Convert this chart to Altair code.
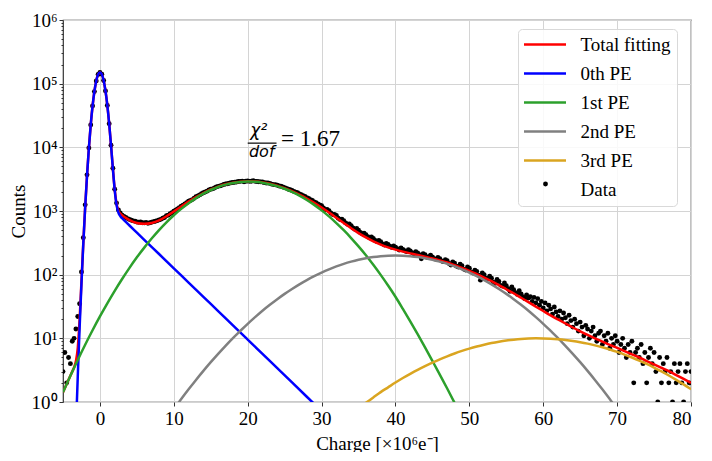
import altair as alt
import numpy as np
import pandas as pd

series_names = ["Total fitting", "0th PE", "1st PE", "2nd PE", "3rd PE", "Data"]
series_colors = ["#ff0000", "#0000ff", "#2ca02c", "#808080", "#daa520", "transparent"]

# ---- fitted curves ----
red_x = [-5.0, -4.5, -4.0, -3.75] + [round(v, 2) for v in np.arange(-3.5, 3.51, 0.25)] + list(range(4, 81))
red_y = [1.42, 1.92, 2.58, 3.0,
         3.5, 4.4, 7.1, 20.1, 79, 317, 1145, 3580, 9630, 22290, 44260, 75500, 110500, 139000,
         150000, 140600, 112000, 76900, 45570, 23520, 10800, 4680, 2190, 1300, 1014, 910, 855, 814, 779,
         720, 650, 630, 650, 712, 826, 984, 1178, 1406, 1656,
         1918, 2177, 2418, 2626, 2788, 2890, 2926, 2899, 2815, 2678,
         2500, 2288, 2055, 1813, 1572, 1343, 1132, 944, 782, 647,
         536, 450, 384, 333, 296, 268, 247, 230, 216, 204,
         192, 180, 167, 155, 141, 128, 115, 102, 90, 79,
         68.5, 59, 51, 43.4, 37, 31.5, 26.9, 23, 19.8, 17.1,
         14.8, 12.9, 11.3, 10.0, 8.9, 7.9, 7.1, 6.3, 5.6, 5.0,
         4.4, 3.9, 3.45, 3.05, 2.65, 2.3, 2.0]

blue_x = [round(v, 2) for v in np.arange(-3.5, 3.51, 0.25)] + [4, 5, 6, 8, 10, 12, 14, 16, 18, 20, 22, 24, 26, 28, 30]
blue_y = [0.048, 0.38, 2.54, 14.7, 72.9, 310, 1137, 3570, 9620, 22280, 44250, 75500, 110500, 139000,
          150000, 140600, 112000, 76870, 45530, 23480, 10750, 4630, 2130, 1240, 944, 832, 769, 718, 673,
          592, 457, 353, 211, 126, 75.2, 44.9, 26.8, 16.0, 9.55, 5.70, 3.40, 2.03, 1.21, 0.72]

green_x = list(range(-5, 50))
green_y = [1.42, 2.58, 4.58, 7.93, 13.4, 22.1, 35.5, 55.8, 85.5, 128,
           187, 266, 369, 501, 663, 857, 1080, 1329, 1596, 1870,
           2138, 2386, 2598, 2762, 2865, 2900, 2870, 2782, 2640, 2455,
           2235, 1993, 1741, 1489, 1247, 1023, 822, 647, 499, 376,
           278, 202, 143, 99.2, 67.5, 45, 29, 18.45, 11.6, 7.2,
           4.42, 2.70, 1.63, 0.97, 0.57]

gray_x = list(range(10, 71))
gray_y = [0.77, 1.11, 1.58, 2.22, 3.08, 4.22, 5.71, 7.64, 10.1, 13.1,
          16.9, 21.5, 27.1, 33.6, 41.2, 49.9, 59.6, 70.5, 82.2, 94.8,
          107.9, 121.3, 134.7, 147.8, 160.1, 171.4, 181.2, 189.2, 195.1, 198.8,
          200, 198.8, 195.1, 189.2, 181.2, 171.4, 160.1, 147.8, 134.7, 121.3,
          107.9, 94.8, 82.2, 70.5, 59.6, 49.9, 41.2, 33.6, 27.1, 21.5,
          16.9, 13.1, 10.1, 7.64, 5.71, 4.22, 3.08, 2.22, 1.58, 1.11, 0.77]

gold_x = list(range(35, 81))
gold_y = [0.79, 0.97, 1.18, 1.43, 1.70, 2.02, 2.38, 2.77, 3.20, 3.66,
          4.16, 4.68, 5.22, 5.78, 6.34, 6.90, 7.44, 7.95, 8.43, 8.86,
          9.24, 9.54, 9.78, 9.93, 10.0, 9.98, 9.88, 9.69, 9.43, 9.10,
          8.70, 8.25, 7.75, 7.23, 6.68, 6.12, 5.56, 5.00, 4.47, 3.96,
          3.47, 3.02, 2.61, 2.23, 1.89, 1.59]

# ---- measured histogram: bin centres every 0.25 from -5 to 80, and counts ----
data_x = [round(v, 2) for v in np.arange(-5.0, 80.01, 0.25)]
data_y = [
    # -5.0 .. 3.0
    3, 6, 2, 5, 4, 9, 10, 14, 22, 35, 110, 380, 1250, 3700, 9800, 22500, 44500,
    75000, 110000, 139000, 150000, 141000, 112000, 77000, 45500, 23500, 10800, 4700,
    2200, 1330, 1040, 930, 860,
    # 3.25 .. 58.0
    820, 790, 760,
    735, 715, 700, 690, 670, 665, 675, 655, 650, 660, 640, 655,
    665, 680, 690, 705, 725, 740, 770, 790, 845, 860, 905, 940,
    990, 1030, 1080, 1130, 1190, 1230, 1290, 1350, 1420, 1460, 1510, 1590,
    1670, 1720, 1790, 1870, 1930, 1990, 2050, 2140, 2200, 2230, 2300, 2390,
    2440, 2480, 2530, 2610, 2650, 2680, 2730, 2780, 2810, 2830, 2860, 2900,
    2920, 2950, 2870, 2940, 2960, 2920, 2940, 2980, 2920, 2900, 2880, 2870,
    2850, 2790, 2760, 2750, 2720, 2640, 2600, 2580, 2540, 2470, 2450, 2380,
    2330, 2270, 2200, 2160, 2100, 2030, 1980, 1930, 1860, 1800, 1740, 1690,
    1620, 1570, 1500, 1460, 1390, 1350, 1290, 1250, 1210, 1120, 1050, 1060,
    1010, 930, 880, 880, 850, 770, 735, 745, 705, 650, 620, 625,
    590, 540, 515, 530, 500, 460, 440, 450, 425, 395, 380, 390,
    372, 345, 330, 345, 330, 305, 292, 310, 298, 280, 268, 282,
    270, 255, 244, 262, 250, 238, 230, 246, 236, 222, 212, 230,
    220, 206, 178, 214, 205, 188, 192, 203, 190, 178, 174, 186,
    178, 164, 160, 172, 166, 150, 142, 158, 152, 136, 132, 146,
    138, 122, 118, 132, 126, 110, 106, 118, 112, 98, 82, 106,
    100, 88, 87, 95, 88, 76, 73, 84, 78, 68, 66, 74,
    67, 60, 55, 64, 58, 52, 49, 56, 50, 45, 42, 48,
    43,
    # 58.25 .. 80.0
    45, 38, 44, 36, 42, 33, 38, 30, 36, 27,
    33, 29, 24, 31, 26, 22, 27, 20, 25, 21,
    17, 23, 19, 15, 20, 17, 13, 18, 15, 11,
    16, 14, 10, 13, 15, 11, 9, 12, 13, 8,
    11, 9, 12, 7, 10, 8, 11, 9, 6, 8,
    10, 7, 5, 8, 6, 9, 2, 6, 7, 5,
    8, 4, 6, 2, 5, 7, 4, 6, 3, 1,
    5, 2, 4, 3, 5, 2, 3, 1, 4, 2,
    3, 4, 2, 1, 3, 4, 2, 3]

x_ticks = [0, 10, 20, 30, 40, 50, 60, 70, 80]
y_ticks = [m * 10 ** k for k in range(0, 6) for m in range(1, 10)] + [10 ** 6]

# annotation
chi_label = ["χ²"]
dof_label = ["dof"]
chi_value = ["= 1.67"]

MAJ = "abs(log(datum.value)/LN10 - round(log(datum.value)/LN10)) < 0.001"

xscale = alt.Scale(domain=[-5, 80], nice=False, zero=False)
yscale = alt.Scale(type="log", domain=[1, 1e6], nice=False)
cscale = alt.Scale(domain=series_names, range=series_colors)

xaxis = alt.Axis(values=x_ticks, title="Charge [×10⁶e⁻]", grid=True, tickSize=4,
                 labelPadding=3, titlePadding=6)
yaxis = alt.Axis(values=y_ticks, title="Counts", grid=True, labelOverlap=False,
                 labelExpr="(" + MAJ + ") ? '10' + ['⁰','¹','²','³','⁴','⁵','⁶'][round(log(datum.value)/LN10)] : ''",
                 gridOpacity={"condition": {"test": MAJ, "value": 1}, "value": 0},
                 tickSize={"condition": {"test": MAJ, "value": 4}, "value": 2},
                 labelPadding=2, titlePadding=3)

line_legend = alt.Legend(
    title=None, orient="none", legendX=455, legendY=9, zindex=0,
    labelFont="Liberation Serif", labelFontSize=19, labelColor="black",
    symbolType="M-3,0H3", symbolSize=196, symbolStrokeWidth=2.5,
    symbolOffset=11.5, labelOffset=26,
    rowPadding=9, padding=6, fillColor="rgba(255,255,255,0.85)", strokeColor="#d9d9d9",
    cornerRadius=4,
)
dot_legend = alt.Legend(
    title=None, orient="none", legendX=473, legendY=154.5, zindex=1,
    labelFontSize=19, labelExpr="''", labelOffset=0,
    symbolType="circle", symbolSize=24, symbolFillColor="black", symbolStrokeColor="black",
    symbolStrokeWidth=0, symbolOpacity=1, symbolOffset=0, padding=0,
)

X = alt.X("x:Q", scale=xscale, axis=xaxis)
Y = alt.Y("y:Q", scale=yscale, axis=yaxis)
C = alt.Color("series:N", scale=cscale, legend=line_legend)

df_data = pd.DataFrame({"x": data_x, "y": data_y, "series": "Data"})
points = alt.Chart(df_data).mark_point(filled=True, size=24, opacity=1, clip=True, color="black").encode(
    x=X, y=Y,
    shape=alt.Shape("series:N", scale=alt.Scale(domain=["Data"], range=["circle"]), legend=dot_legend),
)


def curve(xs, ys, name):
    df = pd.DataFrame({"x": xs, "y": ys, "series": name})
    return alt.Chart(df).mark_line(strokeWidth=2.5, clip=True, interpolate="monotone").encode(x=X, y=Y, color=C)


lines = [curve(red_x, red_y, "Total fitting"),
         curve(blue_x, blue_y, "0th PE"),
         curve(green_x, green_y, "1st PE"),
         curve(gray_x, gray_y, "2nd PE"),
         curve(gold_x, gold_y, "3rd PE")]

ann_chi = alt.Chart(pd.DataFrame({"x": [21.5], "y": [14830], "t": chi_label})).mark_text(
    font="DejaVu Sans", fontStyle="italic", fontSize=17, align="center", baseline="alphabetic", color="black"
).encode(x="x:Q", y="y:Q", text="t:N")
ann_dof = alt.Chart(pd.DataFrame({"x": [21.9], "y": [6940], "t": dof_label})).mark_text(
    font="DejaVu Sans", fontStyle="italic", fontSize=16, align="center", baseline="alphabetic", color="black"
).encode(x="x:Q", y="y:Q", text="t:N")
ann_bar = alt.Chart(pd.DataFrame({"x": [20.0], "x2": [23.9], "y": [11640]})).mark_rule(
    color="black", strokeWidth=1.2
).encode(x="x:Q", x2="x2:Q", y="y:Q")
ann_val = alt.Chart(pd.DataFrame({"x": [24.5], "y": [13300], "t": chi_value})).mark_text(
    font="Liberation Serif", fontSize=23, align="left", baseline="middle", color="black"
).encode(x="x:Q", y="y:Q", text="t:N")

chart = alt.layer(points, *lines, ann_chi, ann_dof, ann_bar, ann_val).properties(
    width=628, height=382,
    autosize=alt.AutoSizeParams(type="none"),
    padding={"left": 55, "top": 12, "right": 10, "bottom": 50},
).configure_view(
    stroke="#333333", strokeWidth=1.2
).configure_axis(
    labelFont="Liberation Serif", labelFontSize=19, labelColor="black",
    titleFont="Liberation Serif", titleFontSize=19, titleFontWeight="normal", titleColor="black",
    gridColor="#d4d4d4", gridWidth=1, tickColor="#333333", tickWidth=1, domain=False,
)

chart.save("out.html", embed_options={"renderer": "svg", "actions": False})
